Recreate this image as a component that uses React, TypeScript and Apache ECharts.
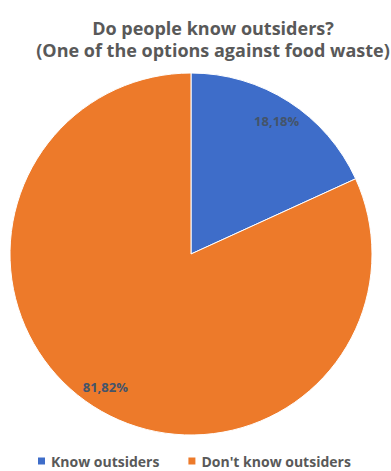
import React, { useEffect, useRef } from "react";
import * as echarts from "echarts";

const categories = ["Know outsiders", "Don't know outsiders"];
const values = [18.18, 81.82];
const labels = ["18,18%", "81,82%"];
const colors = ["#3E6DC9", "#ED7A2A"];

export default function App() {
  const ref = useRef<HTMLDivElement>(null);
  useEffect(() => {
    document.body.style.margin = "0";
    const chart = echarts.init(ref.current!, null, { renderer: "svg" });
    const data = categories.map((name, i) => ({ name, value: values[i], itemStyle: { color: colors[i] } }));
    chart.setOption({
      animation: false,
      backgroundColor: "#ffffff",
      title: {
        text: "Do people know outsiders?\n(One of the options against food waste)",
        left: 208,
        textAlign: "center",
        top: 12,
        textStyle: {
          fontFamily: "Open Sans",
          fontWeight: "bold",
          fontSize: 18,
          lineHeight: 22,
          color: "#595959",
        },
      },
      legend: {
        top: 454,
        left: 36,
        padding: 0,
        itemWidth: 9,
        itemHeight: 9,
        itemGap: 27,
        icon: "rect",
        data: categories,
        textStyle: { fontFamily: "Open Sans", fontWeight: "bold", fontSize: 14, color: "#595959" },
      },
      series: [
        {
          type: "pie",
          center: [191, 254],
          radius: [0, 181],
          startAngle: 90,
          clockwise: true,
          silent: true,
          label: { show: false },
          labelLine: { show: false },
          itemStyle: { borderColor: "#ffffff", borderWidth: 1 },
          data,
        },
        {
          type: "pie",
          center: [191, 254],
          radius: [130, 181],
          startAngle: 90,
          clockwise: true,
          silent: true,
          legendHoverLink: false,
          itemStyle: { color: "transparent" },
          label: {
            show: true,
            position: "inside",
            formatter: (p: any) => labels[p.dataIndex],
            fontFamily: "Open Sans",
            fontWeight: "bold",
            fontSize: 13,
            color: "#44546A",
          },
          labelLine: { show: false },
          data: categories.map((name, i) => ({ name: name + " ", value: values[i] })),
        },
      ],
    });
    return () => chart.dispose();
  }, []);
  return <div ref={ref} style={{ width: 391, height: 471 }} />;
}
